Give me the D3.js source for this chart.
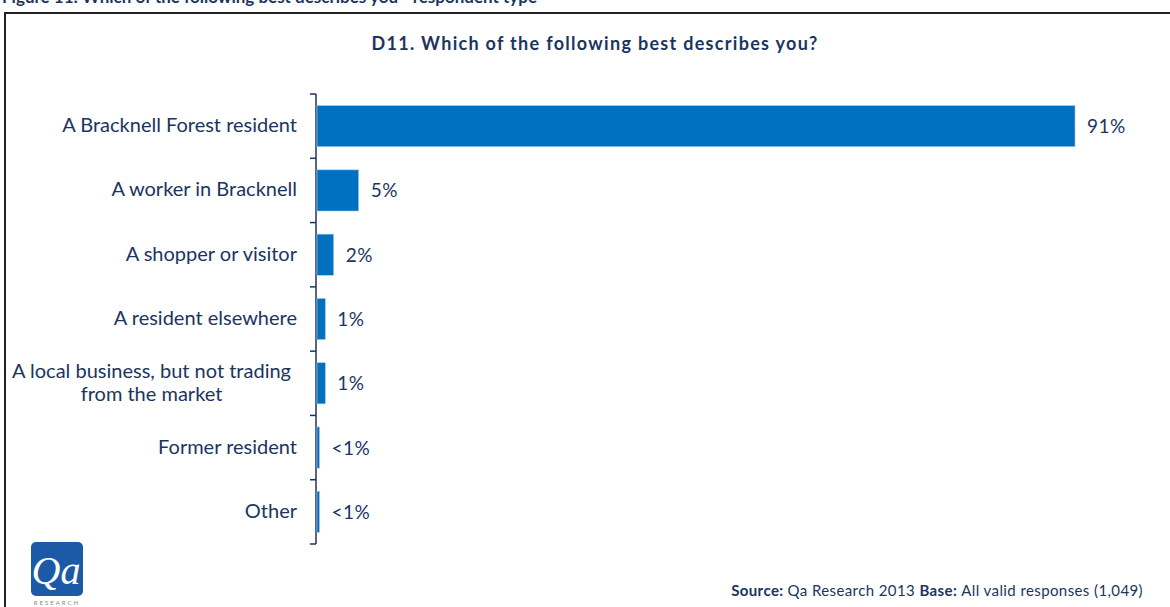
<!doctype html>
<html lang="en">
    <head>
        <meta charset="utf-8">
        <title>D11 respondent type</title>
        <script type="text/javascript" src="https://cdn.jsdelivr.net/npm/d3@7"></script>
        <style>
            body { margin: 0; background: #fff; }
            svg text { font-family: Lato, "Open Sans", sans-serif; }
        </style>
    </head>
    <body>
        <script type="text/javascript">

            var categories = ["A Bracknell Forest resident", "A worker in Bracknell", "A shopper or visitor",
                              "A resident elsewhere", "A local business, but not trading|from the market",
                              "Former resident", "Other"];
            var values = [91, 5, 2, 1, 1, 0.3, 0.3];
            var valueLabels = ["91%", "5%", "2%", "1%", "1%", "<1%", "<1%"];

            var svgW = 1170, svgH = 607;
            var navy = "#1b3560";
            var plot = {left: 316, top: 94, bottom: 544};

            var svg = d3.select("body")
                        .append("svg")
                        .attr("width", svgW)
                        .attr("height", svgH);

            // figure caption sitting above the frame (mostly off the page in the original)
            svg.append("text")
               .attr("x", 2)
               .attr("y", 3)
               .attr("font-size", "17px")
               .attr("font-weight", "bold")
               .attr("fill", navy)
               .text("Figure 11: Which of the following best describes you - respondent type");

            // frame
            svg.append("path")
               .attr("d", "M5," + svgH + " V13 H" + svgW)
               .attr("fill", "none")
               .attr("stroke", "#222")
               .attr("stroke-width", 2);

            svg.append("text")
               .attr("x", 595)
               .attr("y", 50)
               .attr("text-anchor", "middle")
               .attr("font-size", "18px")
               .attr("letter-spacing", "1.3px")
               .attr("font-weight", "bold")
               .attr("fill", navy)
               .text("D11. Which of the following best describes you?");

            var xScale = d3.scaleLinear()
                           .domain([0, 91])
                           .range([plot.left + 1, 1075]);

            var yScale = d3.scaleBand()
                           .domain(d3.range(categories.length))
                           .range([plot.top, plot.bottom])
                           .paddingInner(0.36)
                           .paddingOuter(0.18);

            // axis line and ticks
            var g = svg.append("g");
            g.append("line")
             .attr("x1", plot.left).attr("x2", plot.left)
             .attr("y1", plot.top).attr("y2", plot.bottom)
             .attr("stroke", navy).attr("stroke-width", 1.5);
            g.selectAll(".tick")
             .data(d3.range(categories.length + 1))
             .enter()
             .append("line")
             .attr("x1", plot.left - 6).attr("x2", plot.left)
             .attr("y1", i => plot.top + i * yScale.step())
             .attr("y2", i => plot.top + i * yScale.step())
             .attr("stroke", navy).attr("stroke-width", 1.5);

            svg.selectAll("rect.bar")
               .data(values)
               .enter()
               .append("rect")
               .attr("class", "bar")
               .attr("x", xScale(0))
               .attr("y", (_, i) => yScale(i))
               .attr("width", d => Math.max(2, xScale(d) - xScale(0)))
               .attr("height", yScale.bandwidth())
               .attr("fill", "#0070c0")
               .attr("stroke", "#a9c8e8")
               .attr("stroke-width", 0.6);

            svg.selectAll("text.val")
               .data(values)
               .enter()
               .append("text")
               .attr("class", "val")
               .attr("x", d => Math.max(xScale(d), xScale(0) + 2) + 12)
               .attr("y", (_, i) => yScale(i) + yScale.bandwidth() / 2 + 7)
               .attr("font-size", "19px")
               .attr("letter-spacing", "0.5px")
               .attr("fill", navy)
               .text((_, i) => valueLabels[i]);

            // category labels, wrapped ones centred under the first line
            categories.forEach(function(c, i) {
                var lines = c.split("|");
                var cy = yScale(i) + yScale.bandwidth() / 2;
                var lh = 23;
                var t = svg.append("text")
                           .attr("font-size", "20px")
                           .attr("fill", navy);
                var first = t.append("tspan")
                             .attr("text-anchor", "end")
                             .attr("x", 297)
                             .attr("y", cy + 7 - (lines.length - 1) * lh / 2 - 1)
                             .text(lines[0]);
                if (lines.length > 1) {
                    var w = first.node().getComputedTextLength();
                    first.attr("x", 291);
                    t.append("tspan")
                     .attr("text-anchor", "middle")
                     .attr("x", 291 - w / 2)
                     .attr("y", cy + 7 + lh / 2 - 1)
                     .text(lines[1]);
                }
            });

            // logo
            var logo = svg.append("g").attr("transform", "translate(31,542)");
            logo.append("rect")
                .attr("width", 52).attr("height", 54).attr("rx", 5)
                .attr("fill", "#1c5aa8");
            logo.append("text")
                .attr("x", 25).attr("y", 42)
                .attr("text-anchor", "middle")
                .attr("font-style", "italic")
                .attr("font-size", "40px")
                .attr("fill", "#fff")
                .style("font-family", "'Liberation Serif', serif")
                .text("Qa");
            logo.append("text")
                .attr("x", 26).attr("y", 63)
                .attr("text-anchor", "middle")
                .attr("font-size", "6px")
                .attr("letter-spacing", "2px")
                .attr("fill", "#888")
                .text("RESEARCH");

            var src = svg.append("text")
                         .attr("x", 1143)
                         .attr("y", 596)
                         .attr("text-anchor", "end")
                         .attr("font-size", "15px")
                         .attr("letter-spacing", "0.4px")
                         .attr("fill", navy);
            src.append("tspan").attr("font-weight", "bold").text("Source: ");
            src.append("tspan").text("Qa Research 2013  ");
            src.append("tspan").attr("font-weight", "bold").text("Base: ");
            src.append("tspan").text("All valid responses (1,049)");

        </script>
    </body>
</html>
